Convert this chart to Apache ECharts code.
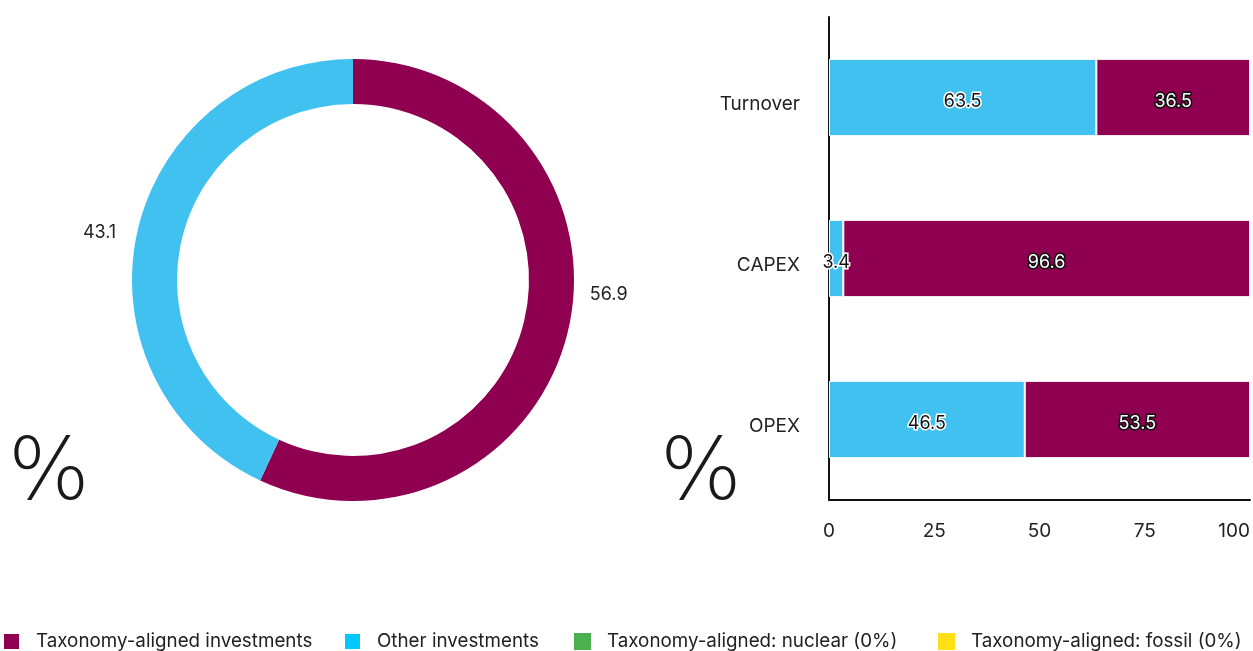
<!DOCTYPE html>
<html>
<head>
<meta charset="utf-8">
<script src="https://cdn.jsdelivr.net/npm/echarts@6/dist/echarts.min.js"></script>
<style>
  html, body { margin: 0; padding: 0; background: #fff; }
  #chart { width: 1253px; height: 651px; }
</style>
</head>
<body>
<div id="chart"></div>
<script>
// donut: share of investments
var pieNames = ['Taxonomy-aligned investments', 'Other investments'];
var pieValues = [56.9, 43.1];

// bars: KPIs split
var categories = ['Turnover', 'CAPEX', 'OPEX'];
var otherValues = [63.5, 3.4, 46.5];
var alignedValues = [36.5, 96.6, 53.5];
var nuclearValues = [0, 0, 0];
var fossilValues = [0, 0, 0];
var xTicks = [0, 25, 50, 75, 100];

var legendNames = ['Taxonomy-aligned investments', 'Other investments',
  'Taxonomy-aligned: nuclear (0%)', 'Taxonomy-aligned: fossil (0%)'];
var legendColors = ['#8f0050', '#00c8ff', '#4caf50', '#ffe014'];
var legendLefts = [2, 343, 574, 938];

var MAGENTA = '#8f0050';
var CYAN = '#40c1f0';
var FONT = 'Inter, "Noto Sans", sans-serif';
var PCT_FONT = '"DejaVu Sans", sans-serif';

var myChart = echarts.init(document.getElementById('chart'));

// one legend per entry so the spacing can follow the original
var legends = legendNames.map(function (name, i) {
  return {
    left: legendLefts[i],
    top: 632,
    padding: 0,
    itemWidth: 17,
    itemHeight: 17,
    icon: 'rect',
    textStyle: { fontSize: 18.8, color: '#222', fontFamily: FONT, padding: [0, 0, 0, 11] },
    data: [{ name: name, itemStyle: { color: legendColors[i] } }]
  };
});

var option = {
  animation: false,
  textStyle: { fontFamily: FONT },
  legend: legends,
  graphic: [
    { type: 'text', left: 8, top: 434, style: { text: '%', fontSize: 86, fontWeight: 200, fill: '#1a1a1a', fontFamily: PCT_FONT } },
    { type: 'text', left: 660, top: 434, style: { text: '%', fontSize: 86, fontWeight: 200, fill: '#1a1a1a', fontFamily: PCT_FONT } }
  ],
  grid: { left: 829, right: 2, top: 17, bottom: 151 },
  xAxis: {
    type: 'value',
    min: 0,
    max: 100,
    interval: 25,
    splitLine: { show: false },
    axisLine: { show: true, lineStyle: { color: '#111', width: 2 } },
    axisTick: { show: false },
    axisLabel: {
      margin: 22, fontSize: 19, color: '#222', alignMaxLabel: 'right',
      formatter: function (v) { return xTicks.indexOf(v) >= 0 ? String(v) : ''; }
    }
  },
  yAxis: {
    type: 'category',
    inverse: true,
    data: categories,
    axisLine: { show: true, lineStyle: { color: '#111', width: 2 } },
    axisTick: { show: false },
    axisLabel: { margin: 29, fontSize: 19, color: '#222', verticalAlign: 'top', lineHeight: 13 }
  },
  series: [
    {
      type: 'pie',
      center: [353, 280],
      radius: [176, 221],
      startAngle: 90,
      clockwise: true,
      itemStyle: { borderWidth: 0 },
      label: { show: true, position: 'outside', fontSize: 18, color: '#222', formatter: '{c}' },
      labelLine: { show: false, length: 0, length2: 16 },
      labelLayout: function (params) {
        return { dy: params.dataIndex === 0 ? -33 : 0 };
      },
      color: [MAGENTA, CYAN],
      data: pieNames.map(function (n, i) { return { name: n, value: pieValues[i] }; })
    },
    {
      name: 'Other investments',
      type: 'bar',
      stack: 'kpi',
      barWidth: '48%',
      itemStyle: { color: CYAN, borderColor: '#fff', borderWidth: 1 },
      label: {
        show: true, position: 'inside', offset: [0, 4], fontSize: 18, color: '#111',
        textBorderColor: '#fff', textBorderWidth: 3
      },
      data: otherValues
    },
    {
      name: 'Taxonomy-aligned investments',
      type: 'bar',
      stack: 'kpi',
      itemStyle: { color: MAGENTA, borderColor: '#fff', borderWidth: 1 },
      label: {
        show: true, position: 'inside', offset: [0, 4], fontSize: 18, color: '#fff',
        textBorderColor: '#111', textBorderWidth: 3
      },
      data: alignedValues
    },
    {
      name: 'Taxonomy-aligned: nuclear (0%)',
      type: 'bar',
      stack: 'kpi',
      itemStyle: { color: '#4caf50', borderWidth: 0 },
      label: { show: false },
      data: nuclearValues
    },
    {
      name: 'Taxonomy-aligned: fossil (0%)',
      type: 'bar',
      stack: 'kpi',
      itemStyle: { color: '#ffe014', borderWidth: 0 },
      label: { show: false },
      data: fossilValues
    }
  ]
};

myChart.setOption(option);
</script>
</body>
</html>
